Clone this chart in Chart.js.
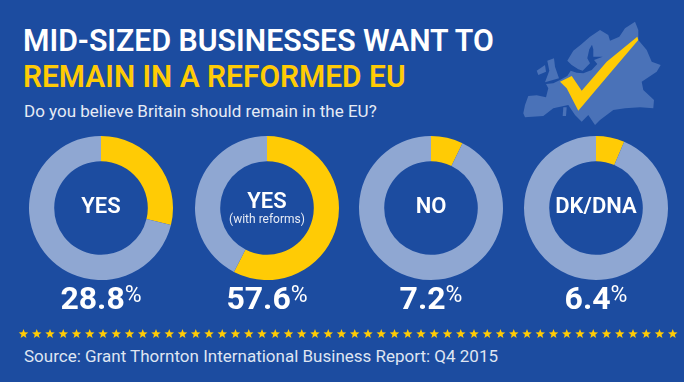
<!DOCTYPE html>
<html><head><meta charset="utf-8">
<script src="https://cdn.jsdelivr.net/npm/chart.js@4"></script>
<style>
html,body{margin:0;padding:0;background:#1c4ca0;overflow:hidden}
#stage{position:relative;width:684px;height:382px;background:#1c4ca0;font-family:Roboto,sans-serif;color:#fff;overflow:hidden}
#stage>*{position:absolute}
canvas{display:block}
.t{white-space:nowrap;line-height:1;transform-origin:0 0}
.c{white-space:nowrap;line-height:1;transform:translateX(-50%);text-align:center}
</style></head><body>
<div id="stage">
<div class="t" style="left:23px;top:25px;font-size:31px;font-weight:600;transform:scaleX(.975)">MID-SIZED BUSINESSES WANT TO</div>
<div class="t" style="left:23px;top:61px;font-size:31px;font-weight:600;color:#ffcb05;transform:scaleX(.965)">REMAIN IN A REFORMED EU</div>
<div class="t" style="left:24px;top:103px;font-size:17px;color:#e6ebf5">Do you believe Britain should remain in the EU?</div>
<svg id="map" width="684" height="382" style="left:0;top:0"></svg>
<svg id="stars" width="684" height="382" style="left:0;top:0"></svg>
<div class="t" style="left:24px;top:348px;font-size:17px;color:#dfe5f2">Source: Grant Thornton International Business Report: Q4 2015</div>
</div>
<script>
const categories = ["YES","YES","NO","DK/DNA"];
const subLabels = ["","(with reforms)","",""];
const shareValues = [28.8,57.6,7.2,6.4];
const remainderValues = [71.2,42.4,92.8,93.6];
const centersX = [101,267,431,596];
const stage = document.getElementById('stage');
categories.forEach((cat,i)=>{
  const cv=document.createElement('canvas');
  cv.width=146;cv.height=146;
  cv.style.cssText=`left:${centersX[i]-73}px;top:135px;width:146px;height:146px`;
  stage.appendChild(cv);
  new Chart(cv,{type:'doughnut',
    data:{labels:['Share','Remainder'],datasets:[{data:[shareValues[i],remainderValues[i]],backgroundColor:['#ffcb05','#8fa7d2'],borderWidth:0}]},
    options:{responsive:false,animation:false,cutout:'65%',layout:{padding:1},plugins:{legend:{display:false},tooltip:{enabled:false}}}
  });
  const l=document.createElement('div');l.className='c';
  l.style.cssText=`left:${centersX[i]}px;top:${subLabels[i]?190:195}px;font-size:22px;font-weight:600`;
  l.textContent=cat;stage.appendChild(l);
  if(subLabels[i]){const s=document.createElement('div');s.className='c';
    s.style.cssText=`left:${centersX[i]}px;top:213px;font-size:12px;color:#e6ebf5`;
    s.textContent=subLabels[i];stage.appendChild(s);}
  const v=document.createElement('div');v.className='c';
  v.style.cssText=`left:${centersX[i]}px;top:282px;font-size:32px;font-weight:700`;
  v.innerHTML=shareValues[i]+'<span style="font-size:23px;font-weight:400;vertical-align:7px">%</span>';
  stage.appendChild(v);
});
const m=(p)=>p.map(([x,y])=>(x/3+510).toFixed(1)+','+(y/3+20).toFixed(1)).join(' ');
const shapes=[
 [[40,280],[45,255],[55,228],[80,226],[108,232],[115,205],[108,192],[130,190],[150,180],[172,168],[182,152],[200,158],[220,160],[245,150],[262,132],[252,120],[278,110],[250,110],[250,88],[246,74],[238,88],[232,115],[240,130],[218,152],[205,148],[185,135],[172,122],[190,92],[215,72],[240,50],[270,30],[295,45],[300,62],[328,50],[345,25],[375,5],[385,30],[385,60],[410,90],[425,125],[452,135],[440,155],[395,185],[400,210],[432,240],[430,265],[390,262],[345,265],[310,270],[270,300],[255,315],[235,285],[215,305],[195,285],[175,255],[130,265],[100,288],[45,292]],
 [[112,122],[132,115],[135,140],[147,175],[105,187],[118,152]],
 [[80,152],[105,135],[108,155],[85,165]],
 [[160,262],[170,262],[168,288],[158,288]]
];
const tick=[[150,185],[185,168],[215,212],[290,125],[382,50],[385,60],[300,160],[205,272],[170,205]];
let h=shapes.map(s=>`<polygon points="${m(s)}" fill="#4a72b8"/>`).join('');
h+=`<polygon points="${m(tick)}" fill="#ffcb05"/>`;
document.getElementById('map').innerHTML=h;
let st='';
const star=(cx,cy,R)=>{let p=[];for(let k=0;k<10;k++){const r=k%2?R*0.42:R,a=-Math.PI/2+k*Math.PI/5;p.push((cx+r*Math.cos(a)).toFixed(2)+','+(cy+r*Math.sin(a)).toFixed(2));}return `<polygon points="${p.join(' ')}" fill="#ffcb05"/>`;};
for(let k=0;k<50;k++){st+=star(23.5+k*13.25,334,5);}
document.getElementById('stars').innerHTML=st;
</script>
</body></html>
